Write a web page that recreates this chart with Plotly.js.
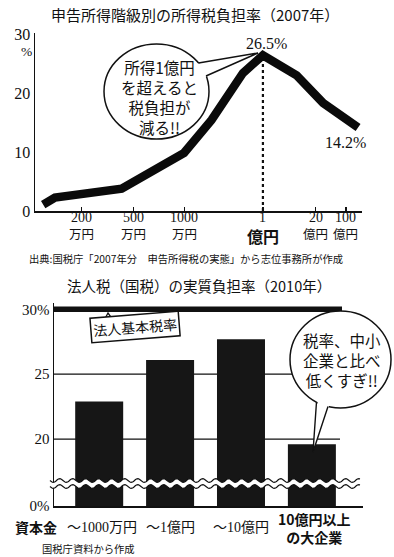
<!DOCTYPE html>
<html><head><meta charset="utf-8">
<script src="https://cdn.plot.ly/plotly-3.0.1.min.js"></script>
<style>html,body{margin:0;padding:0;background:#fff}#chart{width:394px;height:557px}</style>
</head><body><div id="chart"></div>
<script>
// ---------- Chart 1: 申告所得階級別の所得税負担率 (2007年) ----------
// x = position on the schematic income axis (0..100), y = tax burden (%)
const incomeAxisPos = [2.5, 6.1, 26.5, 45.6, 54.0, 63.6, 69.7, 80.0, 88.1, 94.8, 98.8];
const incomeTaxRate = [1.1, 2.3, 3.8, 9.9, 15.5, 23.5, 26.5, 23.1, 18.4, 15.8, 14.2];
const incomeTickPos = [14.1, 30.0, 45.6, 69.7, 85.9, 95.1];
const incomeTickNum = ['200', '500', '1000', '1', '20', '100'];
const incomeTickUnit = ['万円', '万円', '万円', '億円', '億円', '億円'];
const rateTicks1 = [0, 10, 20, 30];

// ---------- Chart 2: 法人税(国税)の実質負担率 (2010年) ----------
const capitalKeys = ['c1', 'c2', 'c3', 'c4'];
const capitalLabels = ['～1000万円', '～1億円', '～10億円', '10億円以上\nの大企業'];
const corpTaxRate = [22.9, 26.1, 27.7, 19.6];
const corpBasicRate = 30;
const rateTicks2 = [20, 25, 30];

// ---------- layout helpers ----------
const W = 394, H = 557;
const px = x => x / W;
const py = y => 1 - y / H;
const SERIF = "'Liberation Serif', 'Noto Sans CJK JP', serif";
const SANS = "'Noto Sans CJK JP', sans-serif";
const INK = '#111';
const BREAK_BASE = 14.84; // axis-break: bottom of visible range labelled 0%

const peakIdx = incomeTaxRate.indexOf(Math.max(...incomeTaxRate));
const lastIdx = incomeTaxRate.length - 1;

const traces = [
  {
    type: 'scatter', mode: 'lines', x: incomeAxisPos, y: incomeTaxRate,
    line: {color: '#0a0a0a', width: 8.5}, xaxis: 'x', yaxis: 'y',
    cliponaxis: false, hoverinfo: 'skip'
  },
  {
    type: 'bar', x: capitalKeys, y: corpTaxRate, width: 0.677,
    marker: {color: '#161616', line: {width: 0}}, xaxis: 'x2', yaxis: 'y2',
    hoverinfo: 'skip'
  }
];

const annotations = [];
const shapes = [];

// titles
annotations.push({xref: 'paper', yref: 'paper', x: px(194.5), y: py(15), text: '申告所得階級別の所得税負担率（2007年）',
  showarrow: false, font: {family: SANS, size: 15, color: INK}, xanchor: 'center', yanchor: 'middle'});
annotations.push({xref: 'paper', yref: 'paper', x: px(198.5), y: py(285), text: '法人税（国税）の実質負担率（2010年）',
  showarrow: false, font: {family: SANS, size: 14.5, color: INK}, xanchor: 'center', yanchor: 'middle'});

// top chart: % unit
annotations.push({xref: 'paper', yref: 'paper', x: px(26), y: py(51.5), text: '%', showarrow: false,
  font: {family: SERIF, size: 13.5, color: INK}, xanchor: 'center', yanchor: 'middle', borderpad: 0});

// top chart x tick labels
incomeTickPos.forEach((p, i) => {
  const big = incomeTickNum[i] === '1';
  annotations.push({xref: 'x', yref: 'paper', x: p, y: py(218), text: incomeTickNum[i], showarrow: false, borderpad: 0,
    font: {family: SERIF, size: 14, color: INK}, xanchor: 'center', yanchor: 'middle'});
  annotations.push({xref: 'x', yref: 'paper', x: p, y: py(big ? 236 : 233.5), text: big ? '<b>' + incomeTickUnit[i] + '</b>' : incomeTickUnit[i], showarrow: false, borderpad: 0,
    font: {family: SANS, size: big ? 16 : 12.5, color: INK}, xanchor: 'center', yanchor: 'middle'});
});

// value labels
annotations.push({xref: 'x', yref: 'y', x: incomeAxisPos[peakIdx], y: incomeTaxRate[peakIdx], text: incomeTaxRate[peakIdx].toFixed(1) + '%',
  showarrow: false, xshift: 4, yshift: 12, font: {family: SERIF, size: 16, color: INK}, xanchor: 'center', yanchor: 'middle'});
annotations.push({xref: 'x', yref: 'y', x: incomeAxisPos[lastIdx], y: incomeTaxRate[lastIdx], text: incomeTaxRate[lastIdx].toFixed(1) + '%',
  showarrow: false, xshift: -13, yshift: -15, font: {family: SERIF, size: 16, color: INK}, xanchor: 'center', yanchor: 'middle'});

// source line (top)
annotations.push({xref: 'paper', yref: 'paper', x: px(27), y: py(258.5), text: '出典:国税庁「2007年分　申告所得税の実態」から志位事務所が作成',
  showarrow: false, font: {family: SANS, size: 10.3, color: INK}, xanchor: 'left', yanchor: 'middle'});

// bubble texts
annotations.push({xref: 'paper', yref: 'paper', x: px(159), y: py(97), text: '所得1億円<br>を超えると<br>税負担が<br>減る!!',
  showarrow: false, font: {family: SANS, size: 15.5, color: INK}, xanchor: 'center', yanchor: 'middle', align: 'center'});
annotations.push({xref: 'paper', yref: 'paper', x: px(342), y: py(359.5), text: '税率、中小<br>企業と比べ<br>低くすぎ!!',
  showarrow: false, font: {family: SANS, size: 15.5, color: INK}, xanchor: 'center', yanchor: 'middle', align: 'center'});

// basic rate label
annotations.push({xref: 'paper', yref: 'paper', x: px(135), y: py(326.5), text: '法人基本税率', textangle: -4.5,
  showarrow: false, font: {family: SANS, size: 14, color: INK}, bgcolor: '#fff', bordercolor: INK, borderwidth: 1.5, borderpad: 1.5,
  xanchor: 'center', yanchor: 'middle'});

// bottom chart x labels
annotations.push({xref: 'paper', yref: 'paper', x: px(36), y: py(527), text: '<b>資本金</b>', showarrow: false,
  font: {family: SANS, size: 14, color: INK}, xanchor: 'center', yanchor: 'middle'});
capitalLabels.forEach((lab, i) => {
  const multi = lab.indexOf('\n') >= 0;
  const bold = i === capitalLabels.length - 1;
  const txt = lab.split('\n').map(s => bold ? '<b>' + s + '</b>' : s).join('<br>');
  annotations.push({xref: 'x2', yref: 'paper', x: capitalKeys[i], xshift: (bold || i === 0) ? 3 : 0, borderpad: 0,
    y: py(multi ? 527.5 : 527), text: txt, showarrow: false, align: 'center',
    font: {family: bold ? SANS : SERIF, size: bold ? 14 : 14, color: INK}, xanchor: 'center', yanchor: 'middle'});
});
annotations.push({xref: 'paper', yref: 'paper', x: px(40), y: py(548.5), text: '国税庁資料から作成', showarrow: false,
  font: {family: SANS, size: 10.3, color: INK}, xanchor: 'left', yanchor: 'middle'});

// ---- shapes ----
// dotted vertical line at the peak
shapes.push({type: 'line', xref: 'x', yref: 'y', x0: incomeAxisPos[peakIdx], x1: incomeAxisPos[peakIdx], y0: 0, y1: incomeTaxRate[peakIdx],
  line: {color: INK, width: 2.2, dash: 'dot'}, layer: 'below'});

// gridlines bottom chart
rateTicks2.forEach(v => {
  const thick = v === corpBasicRate;
  shapes.push({type: 'line', xref: 'paper', yref: 'y2', x0: px(54), x1: v === 20 ? px(340) : px(342), y0: v, y1: v,
    line: {color: INK, width: thick ? 5.5 : 1.3}, layer: 'below'});
});

function pth(points, close) {
  return points.map((p, i) => (i ? 'L' : 'M') + px(p[0]).toFixed(5) + ',' + py(p[1]).toFixed(5)).join(' ') + (close ? ' Z' : '');
}

// speech bubbles
function bubble(x0, x1, y0, y1, tail, edge) {
  shapes.push({type: 'circle', xref: 'paper', yref: 'paper', x0: px(x0), x1: px(x1), y0: py(y1), y1: py(y0),
    fillcolor: '#fff', line: {color: INK, width: 1.5}, layer: 'above'});
  shapes.push({type: 'path', xref: 'paper', yref: 'paper', path: pth(tail, true), fillcolor: '#fff', line: {width: 0}, layer: 'above'});
  shapes.push({type: 'path', xref: 'paper', yref: 'paper', path: pth(edge, false), line: {color: INK, width: 1.4}, layer: 'above'});
}
bubble(104, 209, 44, 139, [[195, 64], [258, 53], [203, 78]], [[198.5, 63], [258, 53], [206, 76]]);
bubble(290, 391, 311, 408, [[318, 398], [313, 452], [330, 403]], [[316.5, 402], [313, 452], [328, 406.5]]);

// small pointer on the basic rate label
shapes.push({type: 'path', xref: 'paper', yref: 'paper', path: pth([[104, 320.5], [108, 313], [113, 320]], false),
  fillcolor: '#fff', line: {color: INK, width: 1.3}, layer: 'above'});

// axis break (wavy band)
function wave(yc) {
  const pts = [];
  for (let x = 50; x <= 360; x += 1) pts.push([x, yc + 1.8 * Math.sin(2 * Math.PI * (x - 50) / 13)]);
  return pts;
}
const upW = wave(480.5), loW = wave(486.5);
shapes.push({type: 'path', xref: 'paper', yref: 'paper', path: pth(upW.concat(loW.slice().reverse()), true),
  fillcolor: '#fff', line: {width: 0}, layer: 'above'});
shapes.push({type: 'path', xref: 'paper', yref: 'paper', path: pth(upW, false), line: {color: INK, width: 1.2}, layer: 'above'});
shapes.push({type: 'path', xref: 'paper', yref: 'paper', path: pth(loW, false), line: {color: INK, width: 1.2}, layer: 'above'});

const layout = {
  width: W, height: H, margin: {l: 0, r: 0, t: 0, b: 0},
  paper_bgcolor: '#fff', plot_bgcolor: 'rgba(0,0,0,0)', showlegend: false,
  xaxis: {domain: [px(35), px(362)], range: [0, 100], anchor: 'y', showline: true, linecolor: INK, linewidth: 1.5,
    ticks: 'inside', ticklen: 4, tickwidth: 1.2, tickcolor: INK, tickmode: 'array', tickvals: incomeTickPos,
    showticklabels: false, showgrid: false, zeroline: false, fixedrange: true},
  yaxis: {domain: [py(211), py(33)], range: [0, 30.3], anchor: 'x', showline: true, linecolor: INK, linewidth: 1.5,
    ticks: '', tickmode: 'array', tickvals: rateTicks1, ticktext: rateTicks1.map(String),
    tickfont: {family: SERIF, size: 16, color: INK}, showgrid: false, zeroline: false, fixedrange: true},
  xaxis2: {domain: [px(54), px(363)], type: 'category', categoryorder: 'array', categoryarray: capitalKeys,
    range: [-0.6375, 3.721], anchor: 'y2', showline: true, linecolor: INK, linewidth: 1.5, ticks: '',
    showticklabels: false, showgrid: false, zeroline: false, fixedrange: true},
  yaxis2: {domain: [py(506), py(302.8)], range: [BREAK_BASE, 30.5], anchor: 'x2', showline: true, linecolor: INK, linewidth: 1.5,
    ticks: '', tickmode: 'array', tickvals: [BREAK_BASE].concat(rateTicks2),
    ticktext: ['0%'].concat(rateTicks2.map(v => v === corpBasicRate ? v + '%' : String(v))),
    tickfont: {family: SERIF, size: 15, color: INK}, showgrid: false, zeroline: false, fixedrange: true},
  annotations: annotations,
  shapes: shapes
};

Plotly.newPlot('chart', traces, layout, {staticPlot: true, displayModeBar: false});
</script>
</body></html>
